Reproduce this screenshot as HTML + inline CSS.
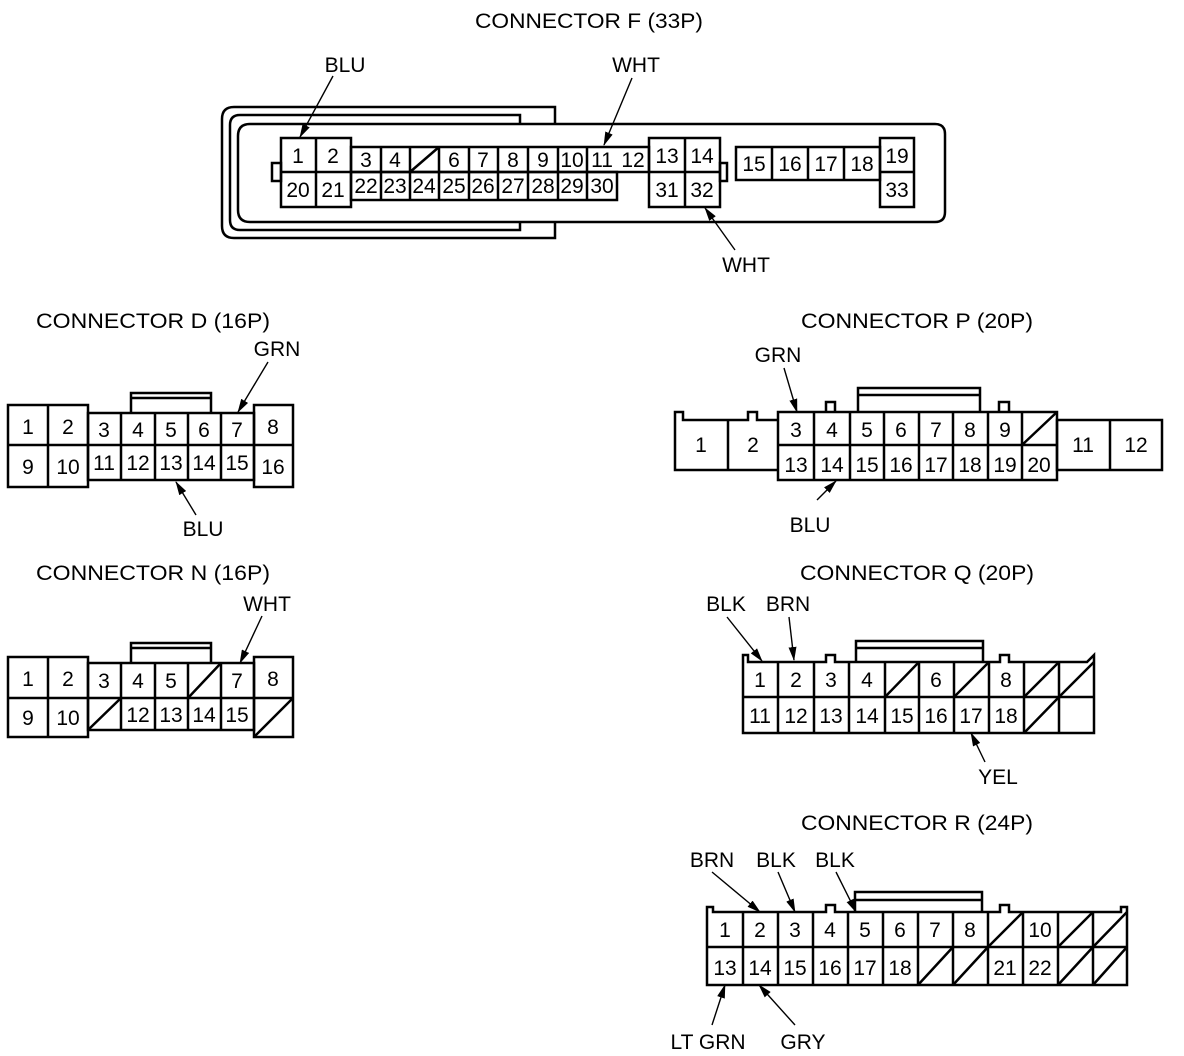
<!DOCTYPE html>
<html><head><meta charset="utf-8"><style>
html,body{margin:0;padding:0;background:#fff}
svg{display:block}
text{font-family:"Liberation Sans",sans-serif;fill:#000}
.t{font-size:21px;text-anchor:middle}
.n{font-size:21px;text-anchor:middle}
.s{fill:none;stroke:#000;stroke-width:2.5}
.a{stroke:#000;stroke-width:1.4;fill:none}
</style></head><body>
<svg width="1184" height="1056" viewBox="0 0 1184 1056" xmlns="http://www.w3.org/2000/svg">
<defs><marker id="ah" markerWidth="14" markerHeight="8" refX="13" refY="4" orient="auto" markerUnits="userSpaceOnUse"><path d="M0,0 L14,4 L0,8 Z" fill="#000"/></marker></defs>
<g class="s">
<!-- F -->
<path d="M555,124 V107 H234 Q222,107 222,119 V226 Q222,238 234,238 H555 V222"/>
<path d="M520,124 V115 H240 Q230,115 230,125 V220 Q230,230 240,230 H520 V222"/>
<path d="M520,124 H935 Q945,124 945,134 V212 Q945,222 935,222 H520"/>
<path d="M520,124 H250 Q238,124 238,136 V210 Q238,222 250,222 H520"/>
<rect x="272" y="163" width="9" height="18"/><rect x="720" y="163" width="7" height="18"/>
<rect x="281" y="138" width="70" height="69"/><path d="M316,138V207M281,172H351"/>
<rect x="351" y="147" width="298" height="25"/><rect x="351" y="172" width="266" height="28"/>
<path d="M381,147V200M410,147V200M439,147V200M469,147V200M498,147V200M528,147V200M558,147V200M587,147V200M410,172L439,147"/>
<rect x="649" y="138" width="71" height="69"/><path d="M685,138V207M649,172H720"/>
<rect x="736" y="147" width="144" height="33"/><path d="M772,147V180M808,147V180M844,147V180"/>
<rect x="880" y="138" width="34" height="69"/><path d="M880,172H914"/>
<!-- D -->
<rect x="8" y="405" width="80" height="82"/><path d="M48,405V487M8,445H88"/>
<rect x="88" y="413" width="166" height="67"/><path d="M121,413V480M155,413V480M188,413V480M221,413V480M88,445H254"/>
<rect x="254" y="405" width="39" height="82"/><path d="M254,445H293"/>
<path d="M131,413V393H211V413M131,398H211"/>
<!-- N -->
<rect x="8" y="657" width="80" height="80"/><path d="M48,657V737M8,698H88"/>
<rect x="88" y="663" width="166" height="67"/><path d="M121,663V730M155,663V730M188,663V730M221,663V730M88,698H254"/>
<rect x="254" y="657" width="39" height="80"/><path d="M254,698H293"/>
<path d="M131,663V643H211V663M131,648H211"/>
<path d="M188,698L221,663M88,730L121,698M254,737L293,698"/>
<!-- P -->
<path d="M778,470H675V412H683V420H748V412H757V420H778M728,420V470"/>
<rect x="778" y="412" width="279" height="68"/>
<path d="M814,412V480M850,412V480M884,412V480M919,412V480M953,412V480M988,412V480M1022,412V480M778,445H1057M1022,445L1057,412"/>
<path d="M826,412V402H835V412M999,412V402H1009V412M858,412V388H980V412M858,395H980"/>
<rect x="1057" y="420" width="105" height="50"/><path d="M1110,420V470"/>
<!-- Q -->
<path d="M743,733V655H748V662H826V655H835V662H1000V655H1009V662H1087L1094,655V733Z"/>
<path d="M778,662V733M814,662V733M849,662V733M885,662V733M919,662V733M954,662V733M989,662V733M1024,662V733M1059,662V733M743,697H1094"/>
<path d="M856,662V641H983V662M856,648H983"/>
<path d="M885,697L919,662M954,697L989,662M1024,697L1059,662M1059,697L1094,662M1024,733L1059,697"/>
<!-- R -->
<path d="M707,985V907H713V912H826V905H835V912H1000V905H1009V912H1121V907H1127V985Z"/>
<path d="M743,912V985M778,912V985M813,912V985M848,912V985M883,912V985M918,912V985M953,912V985M988,912V985M1023,912V985M1058,912V985M1093,912V985M707,947H1127"/>
<path d="M855,912V892H982V912M855,900H982"/>
<path d="M988,947L1023,912M1058,947L1093,912M1093,947L1127,912M918,985L953,947M953,985L988,947M1058,985L1093,947M1093,985L1127,947"/>
</g>
<g class="a" marker-end="url(#ah)">
<line x1="333" y1="76" x2="300" y2="137"/><line x1="632" y1="78" x2="604" y2="145"/><line x1="735" y1="250" x2="705" y2="208"/>
<line x1="268" y1="362" x2="238" y2="412"/><line x1="196" y1="515" x2="176" y2="482"/>
<line x1="262" y1="616" x2="240" y2="663"/>
<line x1="784" y1="368" x2="797" y2="412"/><line x1="817" y1="500" x2="836" y2="481"/>
<line x1="727" y1="617" x2="762" y2="661"/><line x1="789" y1="617" x2="794" y2="660"/><line x1="985" y1="762" x2="971" y2="733"/>
<line x1="712" y1="872" x2="760" y2="912"/><line x1="778" y1="872" x2="795" y2="912"/><line x1="836" y1="872" x2="856" y2="912"/>
<line x1="712" y1="1025" x2="725" y2="985"/><line x1="795" y1="1025" x2="759" y2="985"/>
</g>
<g class="t">
<text x="589" y="28" textLength="228" lengthAdjust="spacingAndGlyphs">CONNECTOR F (33P)</text>
<text x="345" y="72">BLU</text><text x="636" y="72">WHT</text><text x="746" y="272">WHT</text>
<text x="153" y="328" textLength="234" lengthAdjust="spacingAndGlyphs">CONNECTOR D (16P)</text><text x="277" y="356">GRN</text><text x="203" y="536">BLU</text>
<text x="153" y="580" textLength="234" lengthAdjust="spacingAndGlyphs">CONNECTOR N (16P)</text><text x="267" y="611">WHT</text>
<text x="917" y="328" textLength="232" lengthAdjust="spacingAndGlyphs">CONNECTOR P (20P)</text><text x="778" y="362">GRN</text><text x="810" y="532">BLU</text>
<text x="917" y="580" textLength="234" lengthAdjust="spacingAndGlyphs">CONNECTOR Q (20P)</text><text x="726" y="611">BLK</text><text x="788" y="611">BRN</text><text x="998" y="784">YEL</text>
<text x="917" y="830" textLength="232" lengthAdjust="spacingAndGlyphs">CONNECTOR R (24P)</text><text x="712" y="867">BRN</text><text x="776" y="867">BLK</text><text x="835" y="867">BLK</text>
<text x="708" y="1049">LT GRN</text><text x="803" y="1049">GRY</text>
</g>
<g class="n">
<text x="298" y="163">1</text><text x="333" y="163">2</text><text x="667" y="163">13</text><text x="702" y="163">14</text><text x="897" y="163">19</text>
<text x="366" y="167">3</text><text x="395" y="167">4</text><text x="454" y="167">6</text><text x="483" y="167">7</text><text x="513" y="167">8</text><text x="543" y="167">9</text><text x="572" y="167">10</text><text x="602" y="167">11</text><text x="633" y="167">12</text>
<text x="298" y="197">20</text><text x="333" y="197">21</text><text x="667" y="197">31</text><text x="702" y="197">32</text><text x="897" y="197">33</text>
<text x="366" y="193">22</text><text x="395" y="193">23</text><text x="424" y="193">24</text><text x="454" y="193">25</text><text x="483" y="193">26</text><text x="513" y="193">27</text><text x="543" y="193">28</text><text x="572" y="193">29</text><text x="602" y="193">30</text>
<text x="754" y="171">15</text><text x="790" y="171">16</text><text x="826" y="171">17</text><text x="862" y="171">18</text>
<text x="28" y="434">1</text><text x="68" y="434">2</text><text x="273" y="434">8</text>
<text x="28" y="474">9</text><text x="68" y="474">10</text><text x="273" y="474">16</text>
<text x="104" y="437">3</text><text x="138" y="437">4</text><text x="171" y="437">5</text><text x="204" y="437">6</text><text x="237" y="437">7</text>
<text x="104" y="470">11</text><text x="138" y="470">12</text><text x="171" y="470">13</text><text x="204" y="470">14</text><text x="237" y="470">15</text>
<text x="28" y="686">1</text><text x="68" y="686">2</text><text x="273" y="686">8</text>
<text x="28" y="725">9</text><text x="68" y="725">10</text>
<text x="104" y="688">3</text><text x="138" y="688">4</text><text x="171" y="688">5</text><text x="237" y="688">7</text>
<text x="138" y="722">12</text><text x="171" y="722">13</text><text x="204" y="722">14</text><text x="237" y="722">15</text>
<text x="701" y="452">1</text><text x="753" y="452">2</text><text x="1083" y="452">11</text><text x="1136" y="452">12</text>
<text x="796" y="437">3</text><text x="832" y="437">4</text><text x="867" y="437">5</text><text x="901" y="437">6</text><text x="936" y="437">7</text><text x="970" y="437">8</text><text x="1005" y="437">9</text>
<text x="796" y="472">13</text><text x="832" y="472">14</text><text x="867" y="472">15</text><text x="901" y="472">16</text><text x="936" y="472">17</text><text x="970" y="472">18</text><text x="1005" y="472">19</text><text x="1039" y="472">20</text>
<text x="760" y="687">1</text><text x="796" y="687">2</text><text x="831" y="687">3</text><text x="867" y="687">4</text><text x="936" y="687">6</text><text x="1006" y="687">8</text>
<text x="760" y="723">11</text><text x="796" y="723">12</text><text x="831" y="723">13</text><text x="867" y="723">14</text><text x="902" y="723">15</text><text x="936" y="723">16</text><text x="971" y="723">17</text><text x="1006" y="723">18</text>
<text x="725" y="937">1</text><text x="760" y="937">2</text><text x="795" y="937">3</text><text x="830" y="937">4</text><text x="865" y="937">5</text><text x="900" y="937">6</text><text x="935" y="937">7</text><text x="970" y="937">8</text><text x="1040" y="937">10</text>
<text x="725" y="975">13</text><text x="760" y="975">14</text><text x="795" y="975">15</text><text x="830" y="975">16</text><text x="865" y="975">17</text><text x="900" y="975">18</text><text x="1005" y="975">21</text><text x="1040" y="975">22</text>
</g>
</svg>
</body></html>
